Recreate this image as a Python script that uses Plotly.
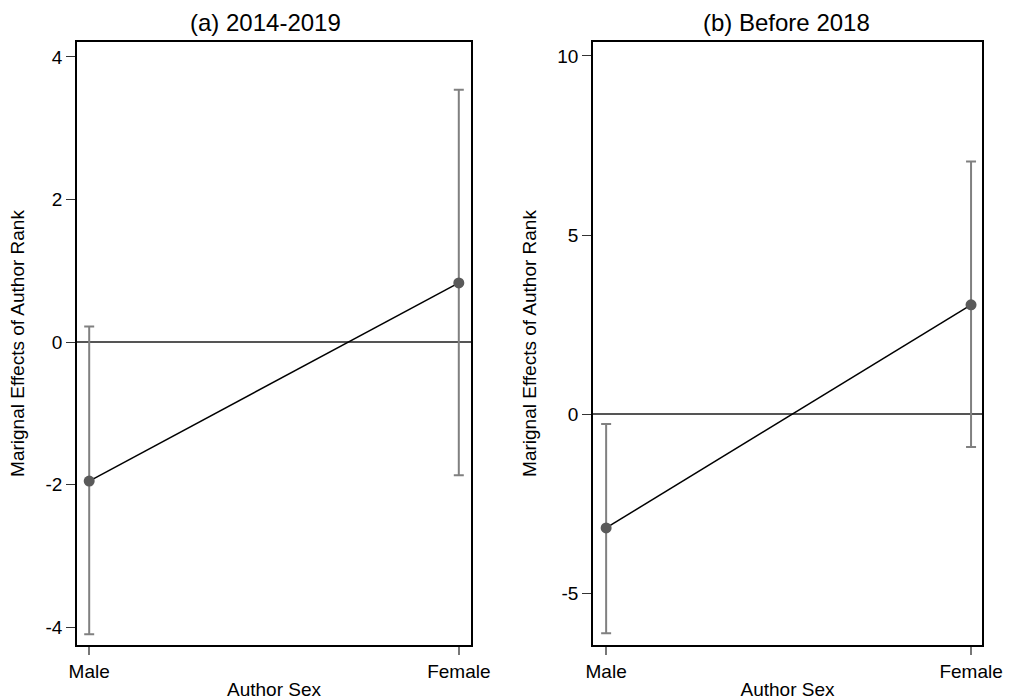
import plotly.graph_objects as go

categories = ["Male", "Female"]

# Panel (a) 2014-2019
a_est = [-1.95, 0.83]
a_lo = [-4.10, -1.87]
a_hi = [0.22, 3.54]

# Panel (b) Before 2018
b_est = [-3.18, 3.05]
b_lo = [-6.12, -0.92]
b_hi = [-0.28, 7.05]

a_yticks = [-4, -2, 0, 2, 4]
b_yticks = [-5, 0, 5, 10]

titles = ["(a) 2014-2019", "(b) Before 2018"]
ytitle = "Marignal Effects of Author Rank"
xtitle = "Author Sex"

FONT = "Liberation Sans, Arial, Helvetica, sans-serif"
PT_COLOR = "#5a5a5a"
ERR_COLOR = "#808080"

fig = go.Figure()
xs = list(range(len(categories)))

def add_panel(est, lo, hi, xa, ya):
    fig.add_trace(go.Scatter(
        x=xs, y=est, mode="lines", line=dict(color="black", width=1.5),
        xaxis=xa, yaxis=ya, showlegend=False, hoverinfo="skip"))
    fig.add_trace(go.Scatter(
        x=xs, y=est, mode="markers",
        marker=dict(color=PT_COLOR, size=11),
        error_y=dict(type="data", symmetric=False,
                     array=[h - e for h, e in zip(hi, est)],
                     arrayminus=[e - l for e, l in zip(est, lo)],
                     color=ERR_COLOR, thickness=2, width=5),
        xaxis=xa, yaxis=ya, showlegend=False))

add_panel(a_est, a_lo, a_hi, "x", "y")
add_panel(b_est, b_lo, b_hi, "x2", "y2")

W, H = 1013, 700
def fx(p):
    return p / W
def fy(p):
    return 1 - p / H

TF = dict(size=19, color="black", family=FONT)

common_x = dict(tickvals=xs, ticktext=categories, ticks="outside", ticklen=8,
                tickcolor="#777", tickwidth=1.5, automargin=False,
                showline=True, mirror=True, linecolor="black", linewidth=1.5,
                showgrid=False, zeroline=False,
                tickfont=TF,
                title=dict(text=xtitle, font=TF, standoff=2))
common_y = dict(ticks="outside", ticklen=9, tickcolor="#333", tickwidth=1, automargin=False,
                showline=True, mirror=True, linecolor="black", linewidth=1.5,
                showgrid=False, zeroline=True, zerolinecolor="#555", zerolinewidth=1.5,
                tickfont=TF,
                title=dict(text=ytitle, font=TF, standoff=16))

fig.update_layout(
    width=W, height=H,
    margin=dict(l=0, r=0, t=0, b=0, autoexpand=False),
    paper_bgcolor="white", plot_bgcolor="white",
    font=dict(family=FONT, color="black"),
    xaxis=dict(domain=[fx(77), fx(471)], range=[-0.033, 1.033], anchor="y", **common_x),
    yaxis=dict(domain=[fy(645), fy(42)], range=[-4.25, 4.21], anchor="x",
               tickvals=a_yticks, ticktext=[str(v) for v in a_yticks], **common_y),
    xaxis2=dict(domain=[fx(593), fx(982)], range=[-0.036, 1.03], anchor="y2", **common_x),
    yaxis2=dict(domain=[fy(645), fy(42)], range=[-6.45, 10.39], anchor="x2",
                tickvals=b_yticks, ticktext=[str(v) for v in b_yticks], **common_y),
    annotations=[
        dict(text=titles[0], x=fx(265), y=fy(23), xref="paper", yref="paper",
             xanchor="center", yanchor="middle",
             showarrow=False, font=dict(size=24, color="black", family=FONT)),
        dict(text=titles[1], x=fx(786), y=fy(23), xref="paper", yref="paper",
             xanchor="center", yanchor="middle",
             showarrow=False, font=dict(size=24, color="black", family=FONT)),
    ],
)

fig.write_html("out.html", config={"displayModeBar": False},
               post_script="document.body.style.margin='0';")
